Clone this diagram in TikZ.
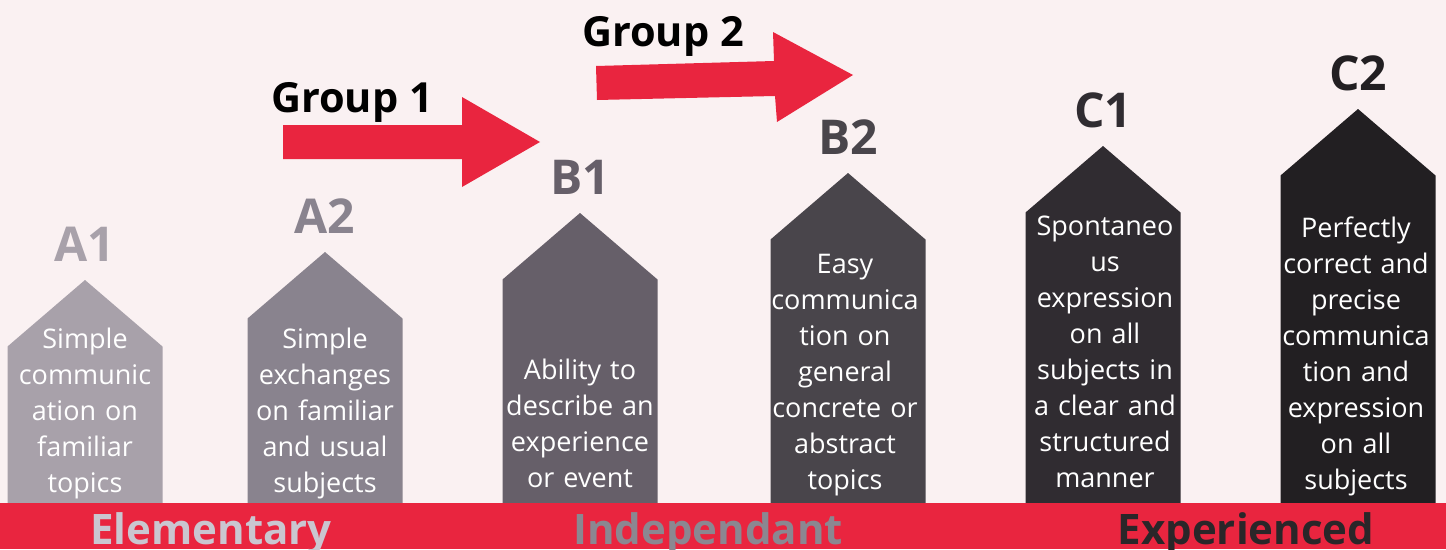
\documentclass[tikz,border=0pt]{standalone}
\usepackage{fontspec}
\setmainfont{Open Sans}
\definecolor{bgpink}{HTML}{FAF1F2}
\definecolor{bandred}{HTML}{E9253F}
\definecolor{lvA1}{HTML}{A8A1AA}
\definecolor{lvA2}{HTML}{89838E}
\definecolor{lvB1}{HTML}{665F69}
\definecolor{lvB2}{HTML}{49454B}
\definecolor{lvC1}{HTML}{302C31}
\definecolor{lvC2}{HTML}{221F22}
\definecolor{bandA}{HTML}{CAC6D0}
\definecolor{bandB}{HTML}{8B8791}
\definecolor{bandC}{HTML}{2A2629}

\begin{document}
\begin{tikzpicture}[x=1pt,y=-1pt,
    level/.style={font=\bfseries\fontsize{48}{48}\selectfont,anchor=base,inner sep=0pt},
    desc/.style={font=\fontsize{27}{36}\selectfont,text=white,align=center,
                 text width=200pt,anchor=base,inner sep=0pt},
    band/.style={font=\bfseries\fontsize{42}{42}\selectfont,anchor=base,inner sep=0pt},
    group/.style={font=\bfseries\fontsize{41.5}{41.5}\selectfont,anchor=base west,inner sep=0pt}]

  \useasboundingbox (0,0) rectangle (1446,549);
  \clip (0,0) rectangle (1446,549);
  \fill[bgpink] (0,0) rectangle (1446,549);

  % level arrows and their names
  \foreach \lv/\x/\top/\col in {A1/85/280/lvA1,A2/325/252/lvA2,B1/580/213/lvB1,
                                 B2/848/173/lvB2,C1/1103/146/lvC1,C2/1358/109/lvC2}{
    \fill[\col] (\x-77.5,510) -- (\x-77.5,\top+66.5) -- (\x,\top)
                -- (\x+77.5,\top+66.5) -- (\x+77.5,510) -- cycle;
    \node[level,text=\col] (\lv) at (\x,\top-19) {\lv};
  }

  \node[desc] (A1 text) at (85,348)   {Simple\\communic\\ation on\\familiar\\topics};
  \node[desc] (A2 text) at (325,348)  {Simple\\exchanges\\on familiar\\and usual\\subjects};
  \node[desc] (B1 text) at (580,379)  {Ability to\\describe an\\experience\\or event};
  \node[desc] (B2 text) at (845,273)  {Easy\\communica\\tion on\\general\\concrete or\\abstract\\topics};
  \node[desc] (C1 text) at (1105,235) {Spontaneo\\us\\expression\\on all\\subjects in\\a clear and\\structured\\manner};
  \node[desc] (C2 text) at (1356,237) {Perfectly\\correct and\\precise\\communica\\tion and\\expression\\on all\\subjects};

  % bottom band
  \fill[bandred] (0,503) rectangle (1446,549);
  \node[band,text=bandA] (elementary)  at (211,544)  {Elementary};
  \node[band,text=bandB] (independant) at (708,544)  {Independant};
  \node[band,text=bandC] (experienced) at (1246,544) {Experienced};

  % group arrows
  \fill[bandred] (283,125) -- (462,125) -- (462,97) -- (540,142)
                 -- (462,187) -- (462,159) -- (283,159) -- cycle;
  \node[group] (group1) at (271,112) {Group 1};

  \fill[bandred] (596,66) -- (774,61) -- (773,32) -- (853,75)
                 -- (777,122) -- (775,96) -- (597,100) -- cycle;
  \node[group] (group2) at (582,46) {Group 2};

\end{tikzpicture}
\end{document}
